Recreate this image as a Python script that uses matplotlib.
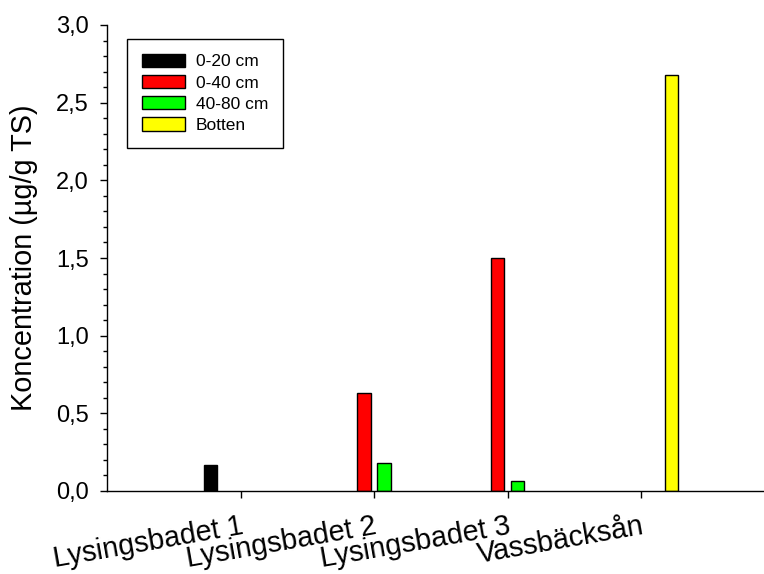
import matplotlib
matplotlib.use('Agg')
import matplotlib.pyplot as plt
from matplotlib.ticker import MultipleLocator, FuncFormatter
import numpy

plt.rcParams['font.family'] = ['Liberation Sans', 'DejaVu Sans']

sites = ['Lysingsbadet 1', 'Lysingsbadet 2', 'Lysingsbadet 3', 'Vassbäcksån']
depths = ['0-20 cm', '0-40 cm', '40-80 cm', 'Botten']
colors = ['#000000', '#ff0000', '#00ff00', '#ffff00']

nan = numpy.nan
values_0_20 = [0.17, nan, nan, nan]
values_0_40 = [nan, 0.63, 1.50, nan]
values_40_80 = [nan, 0.18, 0.065, nan]
values_botten = [nan, nan, nan, 2.68]


def plot(series):

    fig = plt.figure(figsize=(7.64, 5.74), dpi=100)
    ax = fig.add_axes([107 / 764, 83 / 574, 657 / 764, 466 / 574])
    x = numpy.arange(len(sites))
    width = 0.1
    step = 0.15
    for i, values in enumerate(series):
        offset = (i - 1.5) * step
        ax.bar(x + offset, values, width, color=colors[i], edgecolor='black',
               linewidth=1, label=depths[i])

    ax.set_xlim(-1.0, 3.92)
    ax.set_ylim(0, 3.0)
    ax.spines['top'].set_visible(False)
    ax.spines['right'].set_visible(False)
    ax.spines['left'].set_linewidth(1)
    ax.spines['bottom'].set_linewidth(1)

    ax.yaxis.set_major_locator(MultipleLocator(0.5))
    ax.yaxis.set_minor_locator(MultipleLocator(0.1))
    ax.yaxis.set_major_formatter(
        FuncFormatter(lambda v, p: '{:.1f}'.format(v).replace('.', ',')))
    ax.tick_params(axis='y', which='major', length=5, width=1, labelsize=17,
                   pad=8)
    ax.tick_params(axis='y', which='minor', length=3, width=1)
    ax.tick_params(axis='x', length=5, width=1, pad=10)

    ax.set_xticks(x)
    ax.set_xticklabels(sites, rotation=10, ha='right', va='top',
                       rotation_mode='anchor', fontsize=20.7)
    ax.set_ylabel('Koncentration (µg/g TS)', fontsize=20.8, labelpad=13)

    leg = ax.legend(loc='upper left', bbox_to_anchor=(0.0304, 0.970),
                    fontsize=12.5, fancybox=False, framealpha=1,
                    edgecolor='black', handlelength=2.5, handleheight=0.8,
                    handletextpad=0.6, labelspacing=0.32, borderpad=0.85,
                    borderaxespad=0)
    leg.get_frame().set_linewidth(1)

    fig.savefig('out.png', dpi=100)


plot([values_0_20, values_0_40, values_40_80, values_botten])
